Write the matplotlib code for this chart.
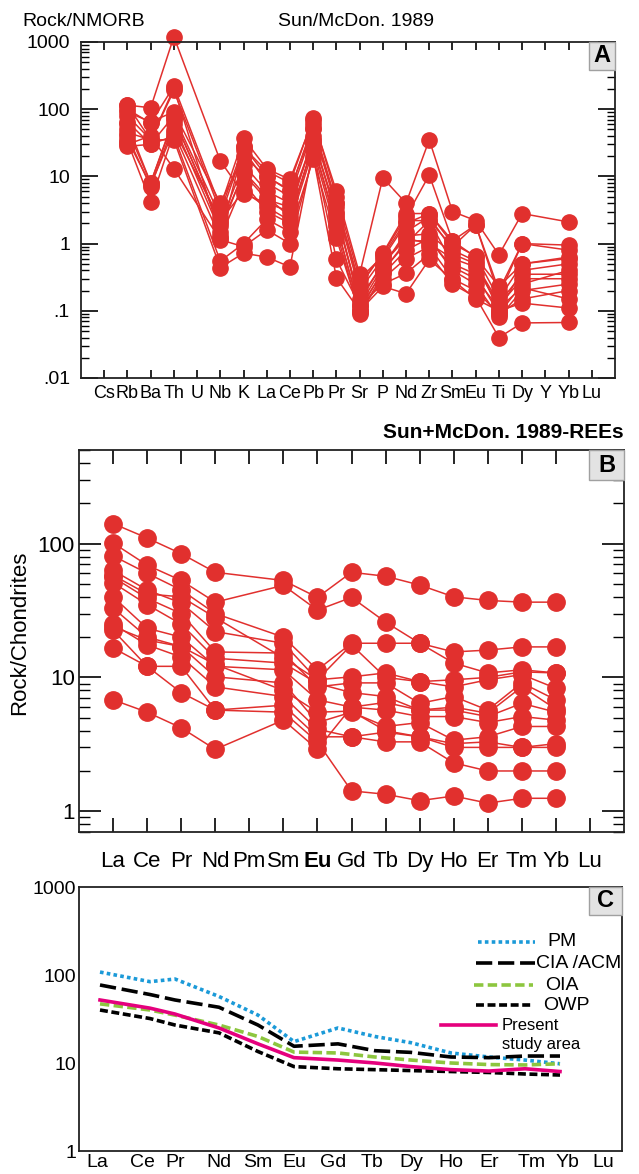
import numpy as np
import matplotlib
matplotlib.use('Agg')
import matplotlib.pyplot as plt
from matplotlib.ticker import FixedLocator, LogLocator, NullFormatter
from matplotlib.patches import Rectangle

plt.rcParams['font.family'] = ['Liberation Sans', 'DejaVu Sans']

nan = np.nan

# ---------------- Panel A data (Rock / N-MORB) ----------------
spider_elements = ['Cs', 'Rb', 'Ba', 'Th', 'U', 'Nb', 'K', 'La', 'Ce', 'Pb', 'Pr',
                   'Sr', 'P', 'Nd', 'Zr', 'Sm', 'Eu', 'Ti', 'Dy', 'Y', 'Yb', 'Lu']
spider_measured = ['Rb', 'Ba', 'Th', 'Nb', 'K', 'La', 'Ce', 'Pb', 'Pr', 'Sr', 'P',
                   'Nd', 'Zr', 'Sm', 'Eu', 'Ti', 'Dy', 'Yb']
a_s01 = [115, 105, 1200, 17, 5.5, 4, 3, 40, 2.5, 0.15, 0.5, 1.2, 1.0, 0.6, 0.45, 0.12, 0.3, 0.3]
a_s02 = [100, 62, 220, 3.5, 37, 13, 9, 70, 6, 0.35, 9.5, 4, 35, 3, 2.2, 0.68, 2.8, 2.1]
a_s03 = [80, 35, 190, 3.0, 28, 10, 6, 60, 4, 0.25, 0.7, 2.5, 10.5, 1.1, 1.9, 0.2, 1.0, 0.95]
a_s04 = [65, 30, 80, 2.5, 25, 8, 5, 50, 3.5, 0.2, 0.6, 2.0, 2.8, 1.0, 0.65, 0.15, 0.5, 0.6]
a_s05 = [50, 8, 70, 2.0, 15, 6, 4, 35, 3.0, 0.12, 0.45, 1.5, 2.5, 0.8, 0.55, 0.1, 0.4, 0.5]
a_s06 = [40, 7, 60, 1.5, 12, 5, 2.5, 30, 2.0, 0.1, 0.4, 1.0, 2.2, 0.5, 0.35, 0.09, 0.25, 0.4]
a_s07 = [33, 4.2, 45, 1.2, 8, 3, 2.0, 25, 1.5, 0.09, 0.35, 0.8, 1.2, 0.4, 0.25, 0.08, 0.2, 0.25]
a_s08 = [28, 30, 40, 0.55, 1.0, 2.3, 1.5, 18, 1.2, 0.095, 0.3, 0.6, 0.9, 0.3, 0.2, 0.09, 0.15, 0.2]
a_s09 = [45, 35, 35, 0.44, 0.72, 0.63, 0.45, 25, 0.58, 0.12, 0.25, 0.36, 0.7, 0.25, 0.16, 0.04, 0.066, 0.067]
a_s10 = [30, 40, 13, 1.14, 0.9, 1.6, 1.0, 20, 0.31, 0.1, 0.23, 0.18, 0.58, 0.29, 0.15, 0.1, 0.13, 0.11]
a_s11 = [90, 65, 91, 4.0, 20, 9.8, 6.3, 53, 4.0, 0.23, 0.72, 2.8, 2.8, 1.1, 0.63, 0.23, 0.5, 0.63]
a_s12 = [60, 8, 74, 1.8, 11, 4.5, 3.5, 35, 2.8, 0.14, 0.5, 1.3, 1.4, 0.7, 0.5, 0.13, 0.35, 0.35]
a_s13 = [35, 7.5, 49, 2.2, 6, 3.5, 2.2, 30, 1.8, 0.11, 0.38, 1.1, 1.1, 0.45, 0.3, 0.11, 0.22, 0.15]
a_s14 = [115, 35, 206, 1.3, 27, 12, 8, 74, 5, 0.3, 0.65, 2.2, 2.2, 0.9, 1.9, 0.17, 1.0, 0.8]
a_samples = [a_s01, a_s02, a_s03, a_s04, a_s05, a_s06, a_s07, a_s08, a_s09, a_s10,
             a_s11, a_s12, a_s13, a_s14]
a_yticks = [0.01, 0.1, 1, 10, 100, 1000]
a_ytick_labels = ['.01', '.1', '1', '10', '100', '1000']

# ---------------- Panel B data (Rock / Chondrite REE) ----------------
ree_elements = ['La', 'Ce', 'Pr', 'Nd', 'Pm', 'Sm', 'Eu', 'Gd', 'Tb', 'Dy', 'Ho',
                'Er', 'Tm', 'Yb', 'Lu']
ree_measured = ['La', 'Ce', 'Pr', 'Nd', 'Sm', 'Eu', 'Gd', 'Tb', 'Dy', 'Ho', 'Er', 'Tm', 'Yb']
b_s01 = [141, 110, 84, 61, 53, 39.6, 61, 57, 49, 40, 37.6, 36.5, 36.5]
b_s02 = [101, 69, 53, 36.5, 48.7, 31.8, 39.6, 25.9, 18, 15.5, 16, 16.9, 16.9]
b_s03 = [81, 60, 45, 30, 20, 11.4, 18, 18, 18, 12.8, 10.8, 11.4, 10.8]
b_s04 = [63, 45, 36, 22, 18, 9.6, 10.1, 10.8, 9.3, 8.5, 9.6, 10.5, 8.3]
b_s05 = [56, 39, 30, 15.5, 15.2, 8.5, 9.1, 9.1, 6.4, 7.2, 5.7, 9.1, 6.8]
b_s06 = [51, 35, 25, 13.9, 12.8, 9.0, 7.7, 7.2, 5.7, 5.7, 5.1, 6.4, 5.5]
b_s07 = [40, 23.3, 20, 12.1, 11.4, 6.8, 6.0, 5.7, 5.1, 5.1, 4.6, 5.1, 4.8]
b_s08 = [33, 20, 17, 10.1, 9.1, 4.6, 5.5, 4.3, 4.6, 3.4, 3.6, 4.3, 4.3]
b_s09 = [25, 17.5, 14.2, 8.5, 7.2, 4.1, 3.6, 3.9, 3.6, 3.0, 3.0, 3.0, 3.0]
b_s10 = [22.5, 12.1, 12.1, 5.7, 6.2, 3.6, 3.6, 3.3, 3.3, 2.3, 2.0, 2.0, 2.0]
b_s11 = [16.6, 12.1, 7.7, 5.7, 5.5, 3.3, 1.42, 1.34, 1.2, 1.3, 1.15, 1.25, 1.25]
b_s12 = [6.8, 5.5, 4.2, 2.9, 4.8, 2.9, 6.0, 6.5, 5.7, 6.0, 5.4, 8.5, 5.8]
b_s13 = [58, 42, 40, 28, 14, 9.6, 17.5, 10.0, 9.3, 9.6, 10.0, 11.0, 10.8]
b_s14 = [24, 19, 17, 12.5, 8.0, 5.5, 5.6, 4.0, 3.6, 3.2, 3.3, 3.0, 3.2]
b_samples = [b_s01, b_s02, b_s03, b_s04, b_s05, b_s06, b_s07, b_s08, b_s09, b_s10,
             b_s11, b_s12, b_s13, b_s14]
b_yticks = [1, 10, 100]
b_ytick_labels = ['1', '10', '100']

# ---------------- Panel C data (tectonic setting averages) ----------------
c_elements = ['La', 'Ce', 'Pr', 'Nd', 'Sm', 'Eu', 'Gd', 'Tb', 'Dy', 'Ho', 'Er', 'Tm', 'Yb']
c_tick_labels = ['La', 'Ce', 'Pr', 'Nd', 'Sm', 'Eu', 'Gd', 'Tb', 'Dy', 'Ho', 'Er', 'Tm', 'Yb', 'Lu']
c_pm = [108, 84, 90, 57, 35, 17.5, 25, 20, 17, 13, 11.7, 10.8, 9.8]
c_cia_acm = [77, 60, 52, 43, 27, 15.5, 16.5, 13.8, 13.2, 11.7, 11.5, 12, 12]
c_oia = [47, 40, 35, 27, 20, 13.3, 13, 11.7, 10.8, 10, 9.6, 9.5, 9.8]
c_owp = [40, 32, 27, 22, 13.5, 9.1, 8.6, 8.4, 8.2, 8.0, 7.8, 7.5, 7.3]
c_present = [52, 42, 36, 25, 16.5, 11.5, 10.8, 10, 9.1, 8.4, 8.1, 8.6, 8.0]
c_yticks = [1, 10, 100, 1000]
c_ytick_labels = ['1', '10', '100', '1000']

# ---------------- layout (pixels of the 639x1174 figure) ----------------
W, H = 639, 1174
# horizontal placement of the C vertices / labels, in the axis' own x units (pixels)
c_vertex_pos = [100, 150, 175, 219, 258, 294, 338, 375, 411, 451, 489, 525, 560]
c_label_pos = [97, 142, 175, 219, 258, 294, 333, 372, 411, 451, 489, 532, 567, 603]

RED = '#E1302E'
BLUE = '#1B9AD8'
GREEN = '#8DC63F'
PINK = '#E5007D'


def rect(l, t, r, b):
    return [l / W, 1 - b / H, (r - l) / W, (b - t) / H]


fig = plt.figure(figsize=(W / 100, H / 100), dpi=100)
axA = fig.add_axes(rect(81, 42, 615, 378))
axB = fig.add_axes(rect(79, 450, 624, 832))
axC = fig.add_axes(rect(79, 887, 622, 1151))


def letter_box(ax, letter, x0, y0):
    ax.add_patch(Rectangle((x0, y0), 1 - x0, 1 - y0, transform=ax.transAxes,
                           fc='#e3e3e3', ec='#a0a0a0', lw=1.0, zorder=10, clip_on=False))
    ax.text((1 + x0) / 2, (1 + y0) / 2, letter, transform=ax.transAxes, ha='center',
            va='center', fontsize=17, fontweight='bold', zorder=11)


for ax in (axA, axB, axC):
    for s in ax.spines.values():
        s.set_linewidth(1.3)
        s.set_color('#222222')

# ---------------- Panel A ----------------
a_x = [spider_elements.index(e) for e in spider_measured]
for s in a_samples:
    axA.plot(a_x, s, '-o', color=RED, lw=1.1, ms=11, mec=RED, mfc=RED, clip_on=False)
axA.set_yscale('log')
axA.set_ylim(0.01, 1000)
axA.set_xlim(-1, len(spider_elements))
axA.xaxis.set_major_locator(FixedLocator(range(len(spider_elements))))
axA.set_xticklabels(spider_elements)
axA.yaxis.set_major_locator(FixedLocator(a_yticks))
axA.set_yticklabels(a_ytick_labels)
axA.yaxis.set_minor_locator(LogLocator(base=10, subs=np.arange(2, 10), numticks=20))
axA.yaxis.set_minor_formatter(NullFormatter())
axA.tick_params(axis='x', which='both', direction='in', top=True, bottom=True,
                length=6, width=1.2, labelsize=13, pad=5)
axA.tick_params(axis='y', which='major', direction='in', left=True, right=True,
                length=12, width=1.2, labelsize=14, pad=8)
axA.tick_params(axis='y', which='minor', direction='in', left=True, right=True,
                length=6, width=1.0)
letter_box(axA, 'A', 0.951, 0.917)
fig.text(22 / W, 1 - 21 / H, 'Rock/NMORB', ha='left', va='center', fontsize=14)
fig.text(356 / W, 1 - 21 / H, 'Sun/McDon. 1989', ha='center', va='center', fontsize=14)

# ---------------- Panel B ----------------
b_x = [ree_elements.index(e) for e in ree_measured]
for s in b_samples:
    axB.plot(b_x, s, '-o', color=RED, lw=1.1, ms=12.5, mec=RED, mfc=RED)
axB.set_yscale('log')
axB.set_ylim(0.7, 500)
axB.set_xlim(-1, len(ree_elements))
axB.xaxis.set_major_locator(FixedLocator(range(len(ree_elements))))
axB.set_xticklabels(ree_elements)
for lab in axB.get_xticklabels():
    if lab.get_text() == 'Eu':
        lab.set_fontweight('bold')
axB.yaxis.set_major_locator(FixedLocator(b_yticks))
axB.set_yticklabels(b_ytick_labels)
axB.yaxis.set_minor_locator(LogLocator(base=10, subs=np.arange(2, 10), numticks=20))
axB.yaxis.set_minor_formatter(NullFormatter())
axB.tick_params(axis='x', which='both', direction='in', top=True, bottom=True,
                length=10, width=1.2, labelsize=16, pad=14)
axB.tick_params(axis='y', which='major', direction='in', left=True, right=True,
                length=16, width=1.2, labelsize=16, pad=3)
axB.tick_params(axis='y', which='minor', direction='in', left=True, right=True,
                length=8, width=1.0)
letter_box(axB, 'B', 0.936, 0.921)
fig.text(624 / W, 1 - 432 / H, 'Sun+McDon. 1989-REEs', ha='right', va='center',
         fontsize=15, fontweight='bold')
fig.text(20 / W, 1 - 633 / H, 'Rock/Chondrites', ha='center', va='center',
         rotation=90, fontsize=16)

# ---------------- Panel C ----------------
axC.set_yscale('log')
axC.set_ylim(1, 1000)
axC.set_xlim(79, 622)
styles = [
    (c_pm, BLUE, (0, (1.0, 0.9))),
    (c_cia_acm, 'black', (0, (4.5, 1.6))),
    (c_oia, GREEN, (0, (2.6, 1.2))),
    (c_owp, 'black', (0, (2.2, 1.0))),
    (c_present, PINK, '-'),
]
for vals, col, ls in styles:
    axC.plot(c_vertex_pos, vals, color=col, ls=ls, lw=2.6)
axC.xaxis.set_major_locator(FixedLocator(c_label_pos))
axC.set_xticklabels(c_tick_labels)
axC.yaxis.set_major_locator(FixedLocator(c_yticks))
axC.set_yticklabels(c_ytick_labels)
axC.yaxis.set_minor_locator(FixedLocator([]))
axC.tick_params(axis='both', which='both', length=0, labelsize=14)
axC.tick_params(axis='x', pad=2)
axC.tick_params(axis='y', pad=2)
letter_box(axC, 'C', 0.939, 0.894)


def cpos(px, py):
    return (px - 79) / 543, (1151 - py) / 264


legend_items = [
    (BLUE, (0, (1.0, 0.9)), 478, 535, 942, 'PM', 547, 942, 14),
    ('black', (0, (4.5, 1.6)), 476, 535, 963, 'CIA /ACM', 536, 963, 14),
    (GREEN, (0, (2.6, 1.2)), 474, 533, 985, 'OIA', 545, 985, 14),
    ('black', (0, (2.2, 1.0)), 476, 531, 1005, 'OWP', 543, 1005, 14),
    (PINK, '-', 441, 496, 1025, 'Present\nstudy area', 502, 1035, 12),
]
for col, ls, x0, x1, y, lab, tx, ty, fs in legend_items:
    (ax0, ay), (ax1, _) = cpos(x0, y), cpos(x1, y)
    axC.plot([ax0, ax1], [ay, ay], color=col, ls=ls, lw=2.6, transform=axC.transAxes,
             clip_on=False)
    tx_, ty_ = cpos(tx, ty)
    axC.text(tx_, ty_, lab, transform=axC.transAxes, ha='left', va='center',
             fontsize=fs, linespacing=1.3, clip_on=False)

fig.savefig('out.png', dpi=100)
